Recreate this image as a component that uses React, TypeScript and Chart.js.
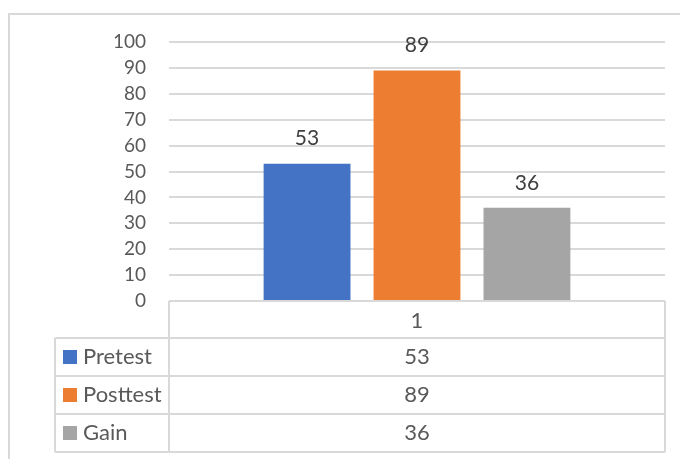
import React, { useEffect, useRef } from "react";
import { Chart, registerables } from "chart.js";

Chart.register(...registerables);

const categories = ["1"];
const seriesNames = ["Pretest", "Posttest", "Gain"];
const pretest = [53];
const posttest = [89];
const gain = [36];
const seriesColors = ["#4472C4", "#ED7D31", "#A5A5A5"];
const yMin = 0;
const yMax = 100;
const yStep = 10;

const FONT = "Lato, 'Open Sans', sans-serif";
const GRID = "#d9d9d9";
const TEXT = "#595959";

const framePlugin = {
  id: "frame",
  beforeDraw(chart: any) {
    const { ctx, width, height } = chart;
    ctx.save();
    ctx.fillStyle = "#ffffff";
    ctx.fillRect(0, 0, width, height);
    ctx.strokeStyle = GRID;
    ctx.lineWidth = 2;
    ctx.beginPath();
    ctx.moveTo(9, height);
    ctx.lineTo(9, 14);
    ctx.lineTo(width, 14);
    ctx.stroke();
    ctx.restore();
  },
};

const labelPlugin = {
  id: "barLabels",
  afterDatasetsDraw(chart: any) {
    const { ctx } = chart;
    ctx.save();
    ctx.font = `21px ${FONT}`;
    ctx.fillStyle = "#404040";
    ctx.textAlign = "center";
    ctx.textBaseline = "middle";
    chart.data.datasets.forEach((ds: any, i: number) => {
      const meta = chart.getDatasetMeta(i);
      meta.data.forEach((el: any, j: number) => {
        ctx.fillText(String(ds.data[j]), el.x, el.y - 25);
      });
    });
    ctx.restore();
  },
};

const tablePlugin = {
  id: "dataTable",
  afterDraw(chart: any) {
    const { ctx, chartArea } = chart;
    const xs = chart.scales.x;
    const top = chartArea.bottom;
    const headerH = 37;
    const rowH = 38;
    const leftColX = 55;
    const n = chart.data.datasets.length;
    const bottom = top + headerH + n * rowH;
    ctx.save();
    ctx.strokeStyle = GRID;
    ctx.lineWidth = 2;
    ctx.beginPath();
    ctx.moveTo(chartArea.left, top);
    ctx.lineTo(chartArea.right, top);
    ctx.moveTo(chartArea.left, top);
    ctx.lineTo(chartArea.left, bottom);
    ctx.moveTo(chartArea.right, top);
    ctx.lineTo(chartArea.right, bottom);
    ctx.moveTo(leftColX, top + headerH);
    ctx.lineTo(leftColX, bottom);
    for (let r = 0; r <= n; r++) {
      const y = top + headerH + r * rowH;
      ctx.moveTo(leftColX, y);
      ctx.lineTo(chartArea.right, y);
    }
    ctx.stroke();

    ctx.font = `22px ${FONT}`;
    ctx.fillStyle = TEXT;
    ctx.textBaseline = "middle";
    ctx.textAlign = "center";
    chart.data.labels.forEach((lab: any, j: number) => {
      const cx = xs.getPixelForValue(j);
      ctx.fillText(String(lab), cx, top + headerH / 2 + 1);
    });
    chart.data.datasets.forEach((ds: any, i: number) => {
      const cy = top + headerH + i * rowH + rowH / 2;
      ctx.fillStyle = ds.backgroundColor;
      ctx.fillRect(63, cy - 7, 14, 14);
      ctx.fillStyle = TEXT;
      ctx.textAlign = "left";
      ctx.fillText(ds.label, 83, cy);
      ctx.textAlign = "center";
      ds.data.forEach((v: number, j: number) => {
        ctx.fillText(String(v), xs.getPixelForValue(j), cy);
      });
    });
    ctx.restore();
  },
};

export default function App() {
  const ref = useRef<HTMLCanvasElement>(null);
  useEffect(() => {
    if (!ref.current) return;
    const values = [pretest, posttest, gain];
    const chart = new Chart(ref.current, {
      type: "bar",
      data: {
        labels: categories,
        datasets: seriesNames.map((name, i) => ({
          label: name,
          data: values[i],
          backgroundColor: seriesColors[i],
          categoryPercentage: 0.665,
          barPercentage: 0.79,
        })),
      },
      options: {
        animation: false,
        responsive: false,
        devicePixelRatio: 1,
        layout: { padding: { left: 0, top: 42, right: 15, bottom: 158 } },
        plugins: {
          legend: { display: false },
          tooltip: { enabled: false },
        },
        scales: {
          x: { display: false },
          y: {
            min: yMin,
            max: yMax,
            border: { display: false },
            grid: { color: GRID, lineWidth: 2, drawTicks: false },
            ticks: {
              stepSize: yStep,
              padding: 23,
              color: TEXT,
              font: { family: FONT, size: 19 },
            },
            afterFit: (scale: any) => {
              scale.width = 169;
            },
          },
        },
      },
      plugins: [framePlugin, labelPlugin, tablePlugin],
    });
    return () => chart.destroy();
  }, []);
  return (
    <canvas
      ref={ref}
      width={680}
      height={459}
      style={{ position: "absolute", left: 0, top: 0 }}
    />
  );
}
